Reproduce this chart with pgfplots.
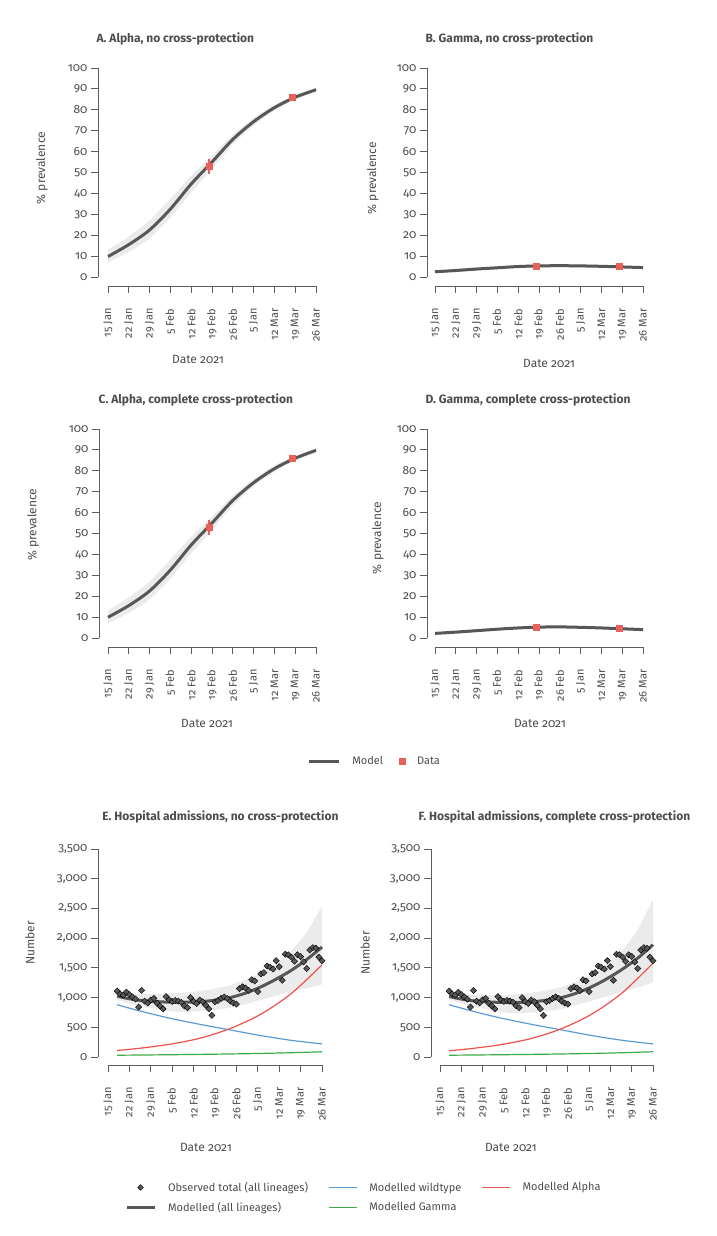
\documentclass[border=0pt]{standalone}
\usepackage{fontspec}
\setmainfont{Fira Sans}[Numbers=OldStyle]
\usepackage{pgfplots}
\usepackage{pgfplotstable}
\pgfplotsset{compat=1.18}
\usepgfplotslibrary{fillbetween}
\definecolor{txt}{HTML}{4D4D4D}
\definecolor{axc}{HTML}{5E5E5E}
\definecolor{model}{HTML}{575757}
\definecolor{band}{HTML}{EBEBEB}
\definecolor{datared}{HTML}{E8605A}
\definecolor{cWild}{HTML}{5B9BD5}
\definecolor{cAlpha}{HTML}{F0504B}
\definecolor{cGamma}{HTML}{3DAA48}
\newcommand\lab{\fontsize{12}{14}\selectfont}
\newcommand\xlab{\fontsize{11}{13}\selectfont}
\newcommand\ttl{\fontsize{12}{14}\selectfont\bfseries}

\pgfplotstableread{
day obs
3 1110
4 1060
5 1040
6 1090
7 1050
8 1010
9 975
10 840
11 1120
12 940
13 910
14 960
15 985
16 905
17 860
18 810
19 1015
20 960
21 935
22 950
23 940
24 920
25 860
26 830
27 1000
28 935
29 900
30 960
31 930
32 870
33 810
34 700
35 930
36 950
37 985
38 1010
39 985
40 940
41 910
42 890
43 1150
44 1180
45 1160
46 1120
47 1300
48 1280
49 1100
50 1400
51 1420
52 1530
53 1510
54 1480
55 1620
56 1520
57 1290
58 1730
59 1720
60 1680
61 1610
62 1720
63 1690
64 1600
65 1490
66 1800
67 1840
68 1830
69 1680
70 1620
}\obsdata

\pgfplotsset{
  base/.style={
    scale only axis, clip=false,
    axis x line*=bottom, axis y line*=left,
    axis line style={draw=none},
    tick align=outside, major tick length=7pt,
    every tick/.style={axc, line width=0.8pt},
    xtick={0,7,...,70},
    xticklabels={15 Jan,22 Jan,29 Jan,5 Feb,12 Feb,19 Feb,26 Feb,5 Jan,12 Mar,19 Mar,26 Mar},
    xticklabel style={yshift=-12pt, rotate=90, anchor=east, font=\xlab, text=txt},
    yticklabel style={font=\lab, text=txt},
    /pgf/number format/assume math mode=true,
    label style={font=\lab, text=txt},
    title style={font=\ttl, text=txt, anchor=west},
    xmax=70,
    legend image code/.code={\draw[mark repeat=2,mark phase=2,##1] plot coordinates {(0pt,0pt) (14pt,0pt) (28pt,0pt)};},
  },
  lineimg/.style={legend image code/.code={\draw[##1] (0pt,0pt) -- (30pt,0pt);}},
  markimg/.style={legend image code/.code={\draw[##1] plot coordinates {(5pt,0pt)};}},
  prev/.style={base, ymin=-4.31, ymax=100, ytick={0,10,...,100}, height=218pt},
  hosp/.style={base, ymin=-134.6, ymax=3500, ytick={0,500,...,3500}, scaled y ticks=false, height=216pt,
    yticklabel style={/pgf/number format/1000 sep={,}}},
  modl/.style={model, line width=3pt, smooth},
  bandfill/.style={fill=band, draw=none},
  dat/.style={only marks, mark=square*, mark size=3pt, datared},
  ebar/.style={datared, line width=1.2pt},
}

\begin{document}
\begin{tikzpicture}
\path (0pt,0pt) rectangle (716pt,1236pt);

% ---------------- A ----------------
\begin{axis}[prev, at={(98pt,950pt)}, anchor=south west, width=218pt, xmin=-3.37,
  title={A. Alpha, no cross-protection}, title style={at={(axis description cs:-0.023,1.106)}},
  ylabel={\% prevalence}, ylabel style={at={(axis description cs:-0.257,0.541)}, anchor=center},
  xlabel={Date 2021}, xlabel style={at={(axis description cs:0.459,-0.339)}, anchor=center}]
\addplot[name path=up, draw=none, smooth, forget plot] coordinates {(0,13) (7,19.5) (14,27) (21,37.5) (28,48.5) (35,58) (42,68) (49,76) (56,82.5) (63,87) (70,90.5)};
\addplot[name path=lo, draw=none, smooth, forget plot] coordinates {(0,7) (7,12) (14,18.5) (21,28.5) (28,40.5) (35,51.5) (42,63.5) (49,72.5) (56,79.5) (63,85) (70,88.5)};
\addplot[bandfill, forget plot] fill between[of=up and lo];
\addplot[modl, forget plot] coordinates {(0,9.8) (7,15.5) (14,22.5) (21,32.5) (28,44.5) (35,55) (42,65.8) (49,74.3) (56,81) (63,86) (70,89.6)};
\addplot[ebar, forget plot] coordinates {(34,49.5) (34,56.5)};
\addplot[dat, forget plot] coordinates {(34,53) (62,86)};
\draw[axc, line width=0.8pt] (axis cs:-3.37,0) -- (axis cs:-3.37,100);
\draw[axc, line width=0.8pt] (axis cs:0,-4.31) -- (axis cs:70,-4.31);
\end{axis}

% ---------------- B ----------------
\begin{axis}[prev, at={(427pt,950pt)}, anchor=south west, width=216pt, xmin=-2.69,
  title={B. Gamma, no cross-protection}, title style={at={(axis description cs:-0.023,1.106)}},
  ylabel={\% prevalence}, ylabel style={at={(axis description cs:-0.25,0.495)}, anchor=center},
  xlabel={Date 2021}, xlabel style={at={(axis description cs:0.565,-0.353)}, anchor=center}]
\addplot[name path=up, draw=none, smooth, forget plot] coordinates {(0,3.2) (7,3.8) (14,4.5) (21,5.1) (28,5.7) (35,6.0) (42,6.1) (49,6.0) (56,5.8) (63,5.5) (70,5.2)};
\addplot[name path=lo, draw=none, smooth, forget plot] coordinates {(0,1.8) (7,2.4) (14,3.1) (21,3.7) (28,4.3) (35,4.6) (42,4.7) (49,4.6) (56,4.4) (63,4.1) (70,3.8)};
\addplot[bandfill, forget plot] fill between[of=up and lo];
\addplot[modl, forget plot] coordinates {(0,2.5) (7,3.1) (14,3.8) (21,4.4) (28,5.0) (35,5.3) (42,5.4) (49,5.3) (56,5.1) (63,4.8) (70,4.5)};
\addplot[dat, forget plot] coordinates {(34,5) (62,5)};
\draw[axc, line width=0.8pt] (axis cs:-2.69,0) -- (axis cs:-2.69,100);
\draw[axc, line width=0.8pt] (axis cs:0,-4.31) -- (axis cs:70,-4.31);
\end{axis}

% ---------------- C ----------------
\begin{axis}[prev, at={(99pt,589pt)}, anchor=south west, width=217pt, xmin=-3.03,
  title={C. Alpha, complete cross-protection}, title style={at={(axis description cs:-0.018,1.106)}},
  ylabel={\% prevalence}, ylabel style={at={(axis description cs:-0.304,0.56)}, anchor=center},
  xlabel={Date 2021}, xlabel style={at={(axis description cs:0.498,-0.349)}, anchor=center},
  legend columns=2,
  legend style={at={(axis description cs:0.959,-0.523)}, anchor=west, draw=none, fill=none,
    font=\xlab, text=txt, inner sep=0pt,
    /tikz/every odd column/.append style={column sep=10pt},
    /tikz/every even column/.append style={column sep=14pt}}]
\addplot[name path=up, draw=none, smooth, forget plot] coordinates {(0,13) (7,19.5) (14,27) (21,37.5) (28,48.5) (35,58) (42,68) (49,76) (56,82.5) (63,87) (70,90.5)};
\addplot[name path=lo, draw=none, smooth, forget plot] coordinates {(0,7) (7,12) (14,18.5) (21,28.5) (28,40.5) (35,51.5) (42,63.5) (49,72.5) (56,79.5) (63,85) (70,88.5)};
\addplot[bandfill, forget plot] fill between[of=up and lo];
\addplot[modl, forget plot] coordinates {(0,9.9) (7,15.5) (14,22.5) (21,32.5) (28,44.5) (35,55) (42,65.8) (49,74.3) (56,81) (63,86) (70,89.8)};
\addplot[ebar, forget plot] coordinates {(34,49.5) (34,56.5)};
\addplot[dat, forget plot] coordinates {(34,53) (62,86)};
\addlegendimage{model, line width=3pt, lineimg}
\addlegendentry{Model}
\addlegendimage{only marks, mark=square*, mark size=3pt, datared, markimg}
\addlegendentry{Data}
\draw[axc, line width=0.8pt] (axis cs:-3.03,0) -- (axis cs:-3.03,100);
\draw[axc, line width=0.8pt] (axis cs:0,-4.31) -- (axis cs:70,-4.31);
\end{axis}

% ---------------- D ----------------
\begin{axis}[prev, at={(427pt,589pt)}, anchor=south west, width=216pt, xmin=-2.69,
  title={D. Gamma, complete cross-protection}, title style={at={(axis description cs:-0.023,1.106)}},
  ylabel={\% prevalence}, ylabel style={at={(axis description cs:-0.227,0.5)}, anchor=center},
  xlabel={Date 2021}, xlabel style={at={(axis description cs:0.523,-0.349)}, anchor=center}]
\addplot[name path=up, draw=none, smooth, forget plot] coordinates {(0,2.8) (7,3.4) (14,4.1) (21,4.8) (28,5.4) (35,5.8) (42,5.9) (49,5.7) (56,5.4) (63,5.0) (70,4.6)};
\addplot[name path=lo, draw=none, smooth, forget plot] coordinates {(0,1.6) (7,2.2) (14,2.9) (21,3.6) (28,4.2) (35,4.6) (42,4.7) (49,4.5) (56,4.2) (63,3.8) (70,3.4)};
\addplot[bandfill, forget plot] fill between[of=up and lo];
\addplot[modl, forget plot] coordinates {(0,2.2) (7,2.8) (14,3.5) (21,4.2) (28,4.8) (35,5.2) (42,5.3) (49,5.1) (56,4.8) (63,4.4) (70,4.0)};
\addplot[dat, forget plot] coordinates {(34,5) (62,4.8)};
\draw[axc, line width=0.8pt] (axis cs:-2.69,0) -- (axis cs:-2.69,100);
\draw[axc, line width=0.8pt] (axis cs:0,-4.31) -- (axis cs:70,-4.31);
\end{axis}

% ---------------- E ----------------
\begin{axis}[hosp, at={(98pt,171pt)}, anchor=south west, width=224pt, xmin=-3.27,
  title={E. Hospital admissions, no cross-protection}, title style={at={(axis description cs:0.004,1.12)}},
  ylabel={Number}, ylabel style={at={(axis description cs:-0.304,0.565)}, anchor=center},
  xlabel={Date 2021}, xlabel style={at={(axis description cs:0.482,-0.38)}, anchor=center},
  legend columns=3, legend cell align=left,
  legend style={at={(axis description cs:0.12,-0.532)}, anchor=north west, draw=none, fill=none,
    font=\xlab, text=txt, inner sep=0pt, row sep=5pt,
    /tikz/every odd column/.append style={column sep=10pt},
    /tikz/every even column/.append style={column sep=18pt}}]
\addplot[name path=up, draw=none, smooth, forget plot] coordinates {(3,1090) (10,1060) (20,1070) (30,1110) (40,1210) (50,1420) (55,1580) (60,1790) (65,2100) (70,2540)};
\addplot[name path=lo, draw=none, smooth, forget plot] coordinates {(3,960) (10,860) (20,770) (25,760) (30,770) (40,830) (50,960) (55,1030) (60,1100) (65,1160) (70,1220)};
\addplot[bandfill, forget plot] fill between[of=up and lo];
\addplot[cWild, line width=1.2pt, smooth, forget plot] coordinates {(3,880) (10,780) (20,655) (30,550) (40,455) (50,360) (60,280) (70,220)};
\addplot[cAlpha, line width=1.2pt, smooth, forget plot] coordinates {(3,110) (10,145) (20,213) (30,315) (40,480) (50,720) (60,1070) (70,1550)};
\addplot[cGamma, line width=1.2pt, smooth, forget plot] coordinates {(3,30) (10,33) (20,38) (30,44) (40,51) (50,60) (60,72) (70,88)};
\addplot[only marks, mark=square*, mark size=2.2pt, mark options={rotate=45, draw=none, fill=model}, forget plot] table[x=day, y=obs]{\obsdata};
\addplot[modl, forget plot] coordinates {(3,1025) (5,1000) (10,955) (15,935) (20,922) (25,922) (30,930) (35,955) (40,1000) (45,1075) (50,1180) (55,1310) (60,1460) (65,1640) (70,1850)};
\addlegendimage{only marks, mark=square*, mark size=2pt, mark options={rotate=45, draw=none, fill=model}}
\addlegendentry{Observed total (all lineages)}
\addlegendimage{cWild, line width=1.2pt}
\addlegendentry{Modelled wildtype}
\addlegendimage{cAlpha, line width=1.2pt}
\addlegendentry{Modelled Alpha}
\addlegendimage{model, line width=3pt}
\addlegendentry{Modelled (all lineages)}
\addlegendimage{cGamma, line width=1.2pt}
\addlegendentry{Modelled Gamma}
\draw[axc, line width=0.8pt] (axis cs:-3.27,0) -- (axis cs:-3.27,3500);
\draw[axc, line width=0.8pt] (axis cs:0,-134.6) -- (axis cs:70,-134.6);
\end{axis}

% ---------------- F ----------------
\begin{axis}[hosp, at={(431pt,171pt)}, anchor=south west, width=222pt, xmin=-2.96,
  title={F. Hospital admissions, complete cross-protection}, title style={at={(axis description cs:-0.072,1.12)}},
  ylabel={Number}, ylabel style={at={(axis description cs:-0.297,0.519)}, anchor=center},
  xlabel={Date 2021}, xlabel style={at={(axis description cs:0.36,-0.38)}, anchor=center}]
\addplot[name path=up, draw=none, smooth, forget plot] coordinates {(3,1070) (10,1040) (20,1040) (30,1080) (40,1180) (50,1390) (55,1570) (60,1800) (65,2150) (70,2650)};
\addplot[name path=lo, draw=none, smooth, forget plot] coordinates {(3,960) (10,860) (20,760) (25,740) (30,750) (40,810) (50,950) (55,1020) (60,1100) (65,1170) (70,1250)};
\addplot[bandfill, forget plot] fill between[of=up and lo];
\addplot[cWild, line width=1.2pt, smooth, forget plot] coordinates {(3,880) (10,780) (20,655) (30,550) (40,455) (50,360) (60,280) (70,220)};
\addplot[cAlpha, line width=1.2pt, smooth, forget plot] coordinates {(3,105) (10,140) (20,208) (30,312) (40,478) (50,725) (60,1085) (70,1580)};
\addplot[cGamma, line width=1.2pt, smooth, forget plot] coordinates {(3,30) (10,33) (20,38) (30,44) (40,51) (50,60) (60,72) (70,88)};
\addplot[only marks, mark=square*, mark size=2.2pt, mark options={rotate=45, draw=none, fill=model}, forget plot] table[x=day, y=obs]{\obsdata};
\addplot[modl, forget plot] coordinates {(3,1020) (5,995) (10,950) (15,930) (20,918) (25,918) (30,928) (35,955) (40,1000) (45,1078) (50,1185) (55,1320) (60,1480) (65,1665) (70,1890)};
\draw[axc, line width=0.8pt] (axis cs:-2.96,0) -- (axis cs:-2.96,3500);
\draw[axc, line width=0.8pt] (axis cs:0,-134.6) -- (axis cs:70,-134.6);
\end{axis}
\end{tikzpicture}
\end{document}
